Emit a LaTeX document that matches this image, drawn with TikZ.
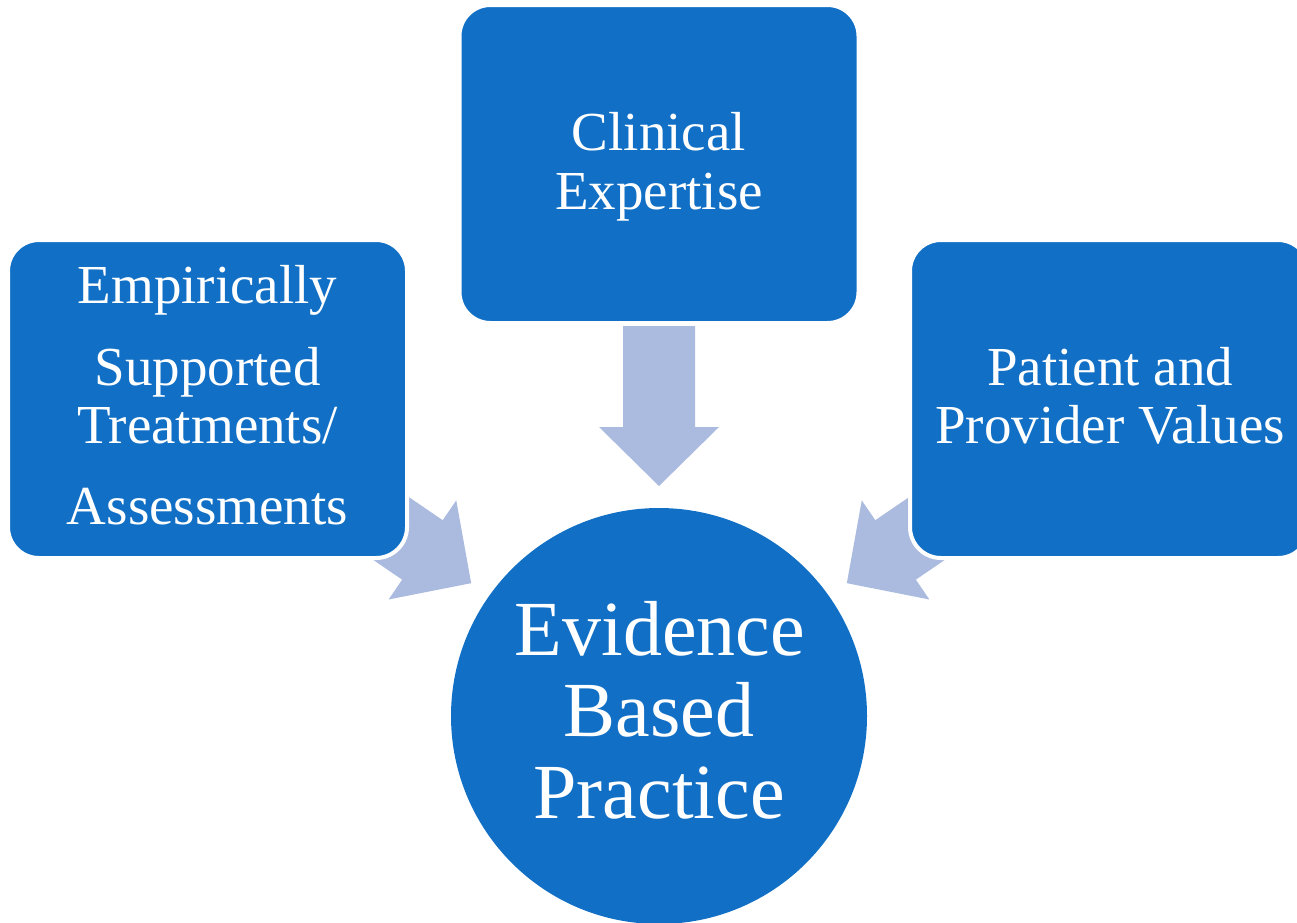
\documentclass[tikz,border=0pt]{standalone}
\usepackage{fontspec}
\setmainfont{Liberation Serif}
\definecolor{boxblue}{HTML}{1170C6}
\definecolor{arrowblue}{HTML}{ABBBE0}
\begin{document}
\begin{tikzpicture}[x=1pt,y=-1pt,
  box/.style={draw=white, line width=4pt, fill=boxblue, rounded corners=31pt,
    minimum width=399pt, minimum height=318pt, inner sep=0pt},
  hub/.style={circle, fill=boxblue, minimum size=416pt, inner sep=0pt},
  boxtxt/.style={text=white, anchor=base, inner sep=0pt, font=\fontsize{55}{58}\selectfont},
  hubtxt/.style={text=white, anchor=base, inner sep=0pt, font=\fontsize{78}{82}\selectfont},
  blockarrow/.style={fill=arrowblue}]
\useasboundingbox (0,0) rectangle (1297,922);
\clip (0,0) rectangle (1297,922);
% block arrows
\begin{scope}[shift={(659,326)}, rotate=-90]
  \fill[blockarrow] (0,-36) -- (101,-36) -- (101,-60) -- (160,0) -- (101,60) -- (101,36) -- (0,36) -- cycle;
\end{scope}
\begin{scope}[shift={(339,493)}, rotate=-34.3]
  \fill[blockarrow] (0,-36) -- (101,-36) -- (101,-60) -- (160,0) -- (101,60) -- (101,36) -- (0,36) -- cycle;
\end{scope}
\begin{scope}[shift={(979,493)}, rotate=-145.7]
  \fill[blockarrow] (0,-36) -- (101,-36) -- (101,-60) -- (160,0) -- (101,60) -- (101,36) -- (0,36) -- cycle;
\end{scope}
% boxes
\node[box] (emp) at (207.5,399) {};
\node[box] (clin) at (659,164) {};
\node[box] (pat) at (1109.5,399) {};
\node[hub] (ebp) at (659,716) {};
% texts
\node[boxtxt] (emp1) at (207.5,303) {Empirically};
\node[boxtxt] (emp2) at (207.5,385) {Supported};
\node[boxtxt] (emp3) at (207.5,443) {Treatments/};
\node[boxtxt] (emp4) at (207.5,524) {Assessments};
\node[boxtxt] (clin1) at (659,150) {Clinical};
\node[boxtxt] (clin2) at (659,209) {Expertise};
\node[boxtxt] (pat1) at (1110,385) {Patient and};
\node[boxtxt] (pat2) at (1110,443) {Provider Values};
\node[hubtxt] (ebp1) at (660,655) {Evidence};
\node[hubtxt] (ebp2) at (659,736) {Based};
\node[hubtxt] (ebp3) at (659,818) {Practice};
\end{tikzpicture}
\end{document}
